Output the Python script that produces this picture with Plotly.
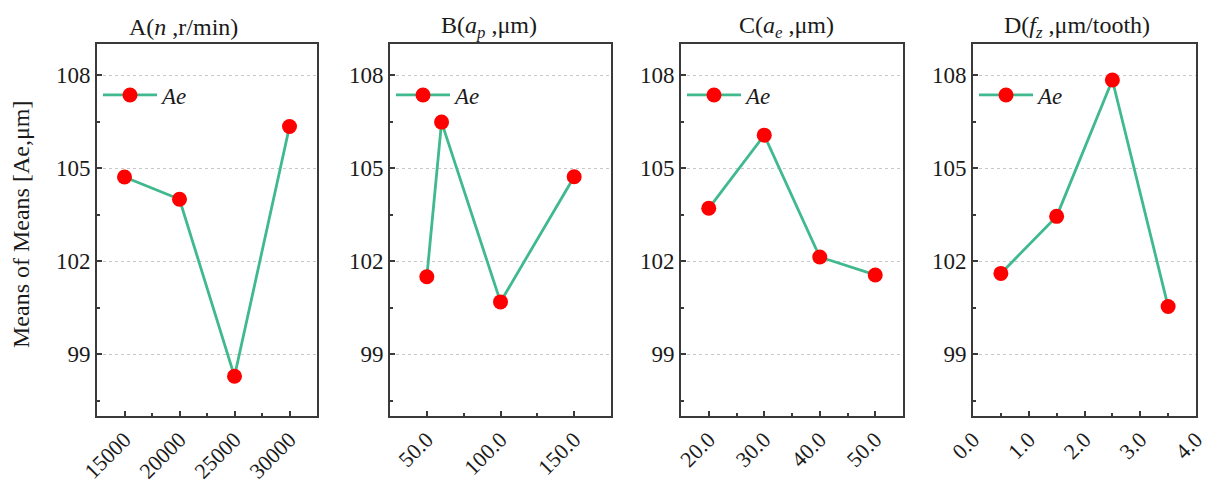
import plotly.graph_objects as go

# ---- data ----
a_levels = [15000, 20000, 25000, 30000]
a_means = [104.71, 103.99, 98.28, 106.34]
b_levels = [50, 60, 100, 150]
b_means = [101.49, 106.48, 100.68, 104.72]
c_levels = [20, 30, 40, 50]
c_means = [103.70, 106.06, 102.13, 101.55]
d_levels = [0.5, 1.5, 2.5, 3.5]
d_means = [101.60, 103.44, 107.84, 100.53]

titles = ["A(<i>n</i> ,r/min)", "B(<i>a<sub>p</sub></i> ,μm)",
          "C(<i>a<sub>e</sub></i> ,μm)", "D(<i>f<sub>z</sub></i> ,μm/tooth)"]
series_name = "<i>Ae</i>"
y_title = "Means of Means [Ae,μm]"

W, H = 1220, 483
FONT = "Liberation Serif"
LINE_C = "#3FB98D"
MARK_C = "#FF0000"
AX_C = "#3a3a3a"
TXT_C = "#1a1a1a"

# panel pixel boxes (left, right)
boxes = [(97, 317), (390, 611), (681, 903), (973, 1196)]
top_px, bot_px = 44, 416
xranges = [[12500, 32500], [25, 175], [15, 55], [0, 4]]
xdticks = [(15000, 5000, 2500, "d"), (50, 50, 25, ".1f"), (20, 10, 5, ".1f"), (0, 1, 0.5, ".1f")]
title_cx = [183, 489, 786, 1077]

fig = go.Figure()
data = [(a_levels, a_means), (b_levels, b_means), (c_levels, c_means), (d_levels, d_means)]

for i, (xs, ys) in enumerate(data):
    n = i + 1
    xa = "x" if n == 1 else f"x{n}"
    ya = "y" if n == 1 else f"y{n}"
    lg = "legend" if n == 1 else f"legend{n}"
    fig.add_trace(go.Scatter(
        x=xs, y=ys, xaxis=xa, yaxis=ya, mode="lines+markers", name=series_name,
        line=dict(color=LINE_C, width=2.8),
        marker=dict(color=MARK_C, size=15, line=dict(width=0)),
        legend=lg, showlegend=True))

    l, r = boxes[i]
    t0, dt, mdt, fmt = xdticks[i]
    xkey = "xaxis" if n == 1 else f"xaxis{n}"
    ykey = "yaxis" if n == 1 else f"yaxis{n}"
    fig.update_layout({
        xkey: dict(domain=[l / W, r / W], anchor=ya, range=xranges[i], automargin=False,
                   tick0=t0, dtick=dt, tickformat=fmt, tickangle=-45,
                   ticks="inside", ticklen=5, tickwidth=1.5, tickcolor=AX_C,
                   minor=dict(ticks="inside", ticklen=3, tickwidth=1.5, dtick=mdt, tick0=t0, tickcolor=AX_C, showgrid=False),
                   showline=True, mirror=True, linecolor=AX_C, linewidth=2,
                   showgrid=False, zeroline=False,
                   tickfont=dict(family=FONT, size=22, color=TXT_C)),
        ykey: dict(domain=[1 - bot_px / H, 1 - top_px / H], anchor=xa, range=[97, 109], automargin=False,
                   tick0=99, dtick=3,
                   ticks="inside", ticklen=5, tickwidth=1.5, tickcolor=AX_C,
                   minor=dict(ticks="inside", ticklen=3, tickwidth=1.5, dtick=1.5, tick0=99, tickcolor=AX_C, showgrid=False),
                   showline=True, mirror=True, linecolor=AX_C, linewidth=2,
                   showgrid=True, gridcolor="#c8c8c8", gridwidth=1, griddash="dot",
                   zeroline=False,
                   tickfont=dict(family=FONT, size=23, color=TXT_C)),
        lg: dict(x=(l + 1) / W, y=1 - 95 / H, xanchor="left", yanchor="middle",
                 bgcolor="rgba(0,0,0,0)", borderwidth=0, itemwidth=54,
                 font=dict(family=FONT, size=23, color=TXT_C)),
    })
    fig.add_annotation(text=titles[i], x=title_cx[i] / W, y=1 - 27 / H, xref="paper", yref="paper",
                       showarrow=False, xanchor="center", yanchor="middle",
                       font=dict(family=FONT, size=24, color=TXT_C))

fig.add_annotation(text=y_title, x=21 / W, y=1 - 225 / H, xref="paper", yref="paper",
                   showarrow=False, textangle=-90, xanchor="center", yanchor="middle",
                   font=dict(family=FONT, size=24, color=TXT_C))

fig.update_layout(width=W, height=H, margin=dict(l=0, r=0, t=0, b=0, autoexpand=False),
                  paper_bgcolor="white", plot_bgcolor="white")

fig.write_html("out.html")
